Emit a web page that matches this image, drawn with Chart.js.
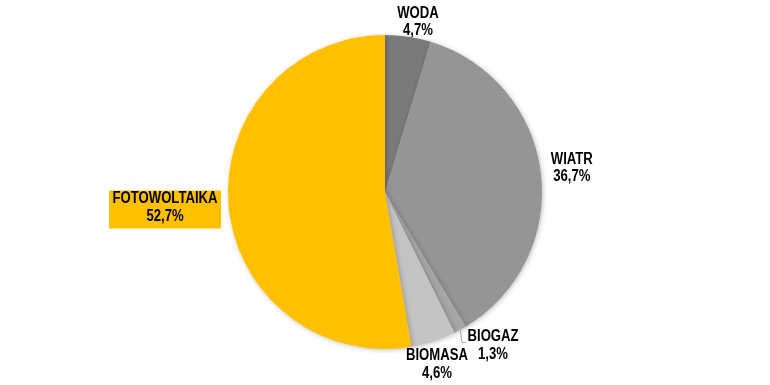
<!DOCTYPE html>
<html>
<head>
<meta charset="utf-8">
<script src="https://cdn.jsdelivr.net/npm/chart.js@4"></script>
<style>
  html, body { margin: 0; padding: 0; background: #ffffff; }
  #wrap { width: 770px; height: 385px; }
</style>
</head>
<body>
<div id="wrap"><canvas id="chart"></canvas></div>
<script>
// dane (udział w %)
const labels = ['WODA', 'WIATR', 'BIOGAZ', 'BIOMASA', 'FOTOWOLTAIKA'];
const values = [4.7, 36.7, 1.3, 4.6, 52.7];
const colors = ['#7a7a7a', '#959595', '#a6a6a6', '#c3c3c3', '#ffc000'];

// położenie etykiet względem środka koła (w promieniach)
const labelPos = [
  { dx: 0.21, dy: -1.083 },
  { dx: 1.19, dy: -0.153 },
  { dx: 0.688, dy: 0.978 },
  { dx: 0.331, dy: 1.099 },
  { dx: -1.401, dy: 0.099 }
];

const FONT = '"Liberation Sans", Arial, sans-serif';
const NARROW = 0.82; // imitacja czcionki "Arial Narrow"

function fmt(v) {
  return v.toFixed(1).replace('.', ',') + '%';
}

const shadowPlugin = {
  id: 'shadow',
  beforeDatasetDraw(chart) {
    const ctx = chart.ctx;
    ctx.save();
    ctx.shadowColor = 'rgba(0,0,0,0.25)';
    ctx.shadowBlur = 5;
    ctx.shadowOffsetX = 1;
    ctx.shadowOffsetY = 1;
  },
  afterDatasetDraw(chart) {
    chart.ctx.restore();
  }
};

const labelPlugin = {
  id: 'pieLabels',
  afterDatasetsDraw(chart) {
    const ctx = chart.ctx;
    const meta = chart.getDatasetMeta(0);
    ctx.save();
    ctx.font = 'bold 16px ' + FONT;
    ctx.textAlign = 'center';
    ctx.textBaseline = 'middle';
    meta.data.forEach((arc, i) => {
      const r = arc.outerRadius;
      const x = arc.x + labelPos[i].dx * r;
      const y = arc.y + labelPos[i].dy * r;
      const l1 = labels[i];
      const l2 = fmt(values[i]);
      if (i === 4) {
        const w = ctx.measureText(l1).width * NARROW + 7;
        ctx.fillStyle = colors[4];
        ctx.fillRect(x - w / 2, y - 17, w, 38);
      }
      if (i === 2) {
        // linia odniesienia dla BIOGAZ
        const a = (arc.startAngle + arc.endAngle) / 2;
        const sx = arc.x + Math.cos(a) * r;
        const sy = arc.y + Math.sin(a) * r;
        ctx.strokeStyle = '#a6a6a6';
        ctx.lineWidth = 1;
        ctx.beginPath();
        ctx.moveTo(sx, sy);
        ctx.lineTo(x - 31, y - 3);
        ctx.lineTo(x - 27, y - 3);
        ctx.stroke();
      }
      ctx.fillStyle = '#000000';
      ctx.save();
      ctx.translate(x, y);
      ctx.scale(NARROW, 1);
      ctx.fillText(l1, 0, -8.5);
      ctx.fillText(l2, 0, 9);
      ctx.restore();
    });
    ctx.restore();
  }
};

new Chart(document.getElementById('chart'), {
  type: 'pie',
  data: {
    labels: labels,
    datasets: [{
      data: values,
      backgroundColor: colors,
      borderWidth: 0
    }]
  },
  options: {
    responsive: true,
    maintainAspectRatio: false,
    animation: false,
    layout: { padding: { top: 35, bottom: 36 } },
    plugins: {
      legend: { display: false },
      tooltip: { enabled: false }
    }
  },
  plugins: [shadowPlugin, labelPlugin]
});
</script>
</body>
</html>
